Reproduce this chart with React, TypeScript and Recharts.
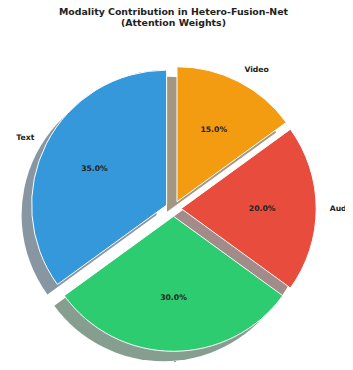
import React from "react"
import { PieChart, Pie, Cell } from "recharts"

const CATEGORIES = ["Text", "Image", "Audio", "Video"]
const WEIGHTS = [35, 30, 20, 15]
const COLORS = ["#3498db", "#2ecc71", "#e74c3c", "#f39c12"]
const TITLE_LINES = ["Modality Contribution in Hetero-Fusion-Net", "(Attention Weights)"]

const W = 353
const H = 370
const CX = 173.5
const CY = 208.6
const R = 135
const EXPLODE = 7.7
const SHADOW_DX = -10
const SHADOW_DY = 10
const START = 90
const RAD = Math.PI / 180
const FONT = "'DejaVu Sans', sans-serif"

const data = CATEGORIES.map((name, i) => ({ name, value: WEIGHTS[i] }))
const total = WEIGHTS.reduce((a, b) => a + b, 0)

// mid angle of each wedge, used only to push the wedge out from the centre
const midAngles = WEIGHTS.map((v, i) => {
  const before = WEIGHTS.slice(0, i).reduce((a, b) => a + b, 0)
  return START + (360 * before) / total + (180 * v) / total
})

const shade = (hex: string) => {
  const n = parseInt(hex.slice(1), 16)
  const ch = [(n >> 16) & 255, (n >> 8) & 255, n & 255].map((c) => Math.round(c * 0.3))
  return `rgb(${ch.join(",")})`
}

const makeLabel = (slice: number) => (props: any) => {
  const { index, cx, cy, midAngle, percent, name } = props
  if (index !== slice) return null
  const cos = Math.cos(-midAngle * RAD)
  const sin = Math.sin(-midAngle * RAD)
  const nx = cx + R * 1.1 * cos
  const ny = cy + R * 1.1 * sin
  const px = cx + R * 0.6 * cos
  const py = cy + R * 0.6 * sin
  return (
    <g>
      <text
        x={nx}
        y={ny}
        textAnchor={cos > -1e-6 ? "start" : "end"}
        dominantBaseline="central"
        fontFamily={FONT}
        fontWeight="bold"
        fontSize={7.7}
        fill="#222"
      >
        {name}
      </text>
      <text
        x={px}
        y={py}
        textAnchor="middle"
        dominantBaseline="central"
        fontFamily={FONT}
        fontWeight="bold"
        fontSize={7.7}
        fill="#222"
      >
        {(percent * 100).toFixed(1)}%
      </text>
    </g>
  )
}

export default function App() {
  const offsets = midAngles.map((m) => ({
    x: CX + EXPLODE * Math.cos(m * RAD),
    y: CY - EXPLODE * Math.sin(m * RAD),
  }))

  return (
    <div style={{ margin: -8, position: "relative", width: W, height: H, background: "#fff" }}>
      <PieChart width={W} height={H} margin={{ top: 0, right: 0, bottom: 0, left: 0 }}>
        {offsets.map((o, j) => (
          <Pie
            key={`shadow-${j}`}
            data={data}
            dataKey="value"
            nameKey="name"
            cx={o.x + SHADOW_DX}
            cy={o.y + SHADOW_DY}
            outerRadius={R}
            startAngle={START}
            endAngle={START + 360}
            stroke="none"
            labelLine={false}
            isAnimationActive={false}
          >
            {data.map((_, i) => (
              <Cell key={i} fill={i === j ? shade(COLORS[i]) : "none"} fillOpacity={0.5} stroke="none" />
            ))}
          </Pie>
        ))}
        {offsets.map((o, j) => (
          <Pie
            key={`slice-${j}`}
            data={data}
            dataKey="value"
            nameKey="name"
            cx={o.x}
            cy={o.y}
            outerRadius={R}
            startAngle={START}
            endAngle={START + 360}
            label={makeLabel(j)}
            labelLine={false}
            isAnimationActive={false}
          >
            {data.map((_, i) => (
              <Cell
                key={i}
                fill={i === j ? COLORS[i] : "none"}
                stroke={i === j ? "#fff" : "none"}
                strokeWidth={1}
              />
            ))}
          </Pie>
        ))}
      </PieChart>
      <svg width={W} height={40} style={{ position: "absolute", left: 0, top: 0, pointerEvents: "none" }}>
        {TITLE_LINES.map((line, i) => (
          <text
            key={i}
            x={173.5}
            y={11 + i * 11.7}
            textAnchor="middle"
            dominantBaseline="central"
            fontFamily={FONT}
            fontWeight="bold"
            fontSize={9.4}
            fill="#222"
          >
            {line}
          </text>
        ))}
      </svg>
    </div>
  )
}
